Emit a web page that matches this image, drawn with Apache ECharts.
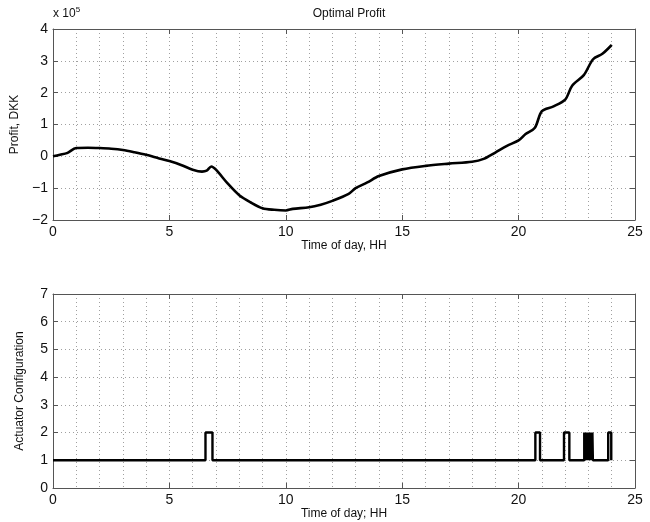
<!DOCTYPE html>
<html>
<head>
<meta charset="utf-8">
<script src="https://cdn.jsdelivr.net/npm/echarts@6/dist/echarts.min.js"></script>
<style>
  html, body { margin: 0; padding: 0; background: #fff; }
  #chart { width: 650px; height: 522px; }
</style>
</head>
<body>
<div id="chart"></div>
<script>
// profit curve, hours vs profit in units of 1e5 DKK
const profitHours = [0, 0.3, 0.6, 1, 1.5, 2, 2.5, 3, 3.5, 4, 4.5, 5, 5.5, 6, 6.4, 6.6, 6.8, 7, 7.5, 8, 8.5, 9, 9.5, 10, 10.3, 11, 11.5, 12, 12.7, 13, 13.5, 14, 15, 16, 17, 18, 18.5, 19, 19.5, 20, 20.3, 20.7, 21, 21.5, 22, 22.3, 22.8, 23.2, 23.6, 24]
const profitValues = [0, 0.05, 0.1, 0.26, 0.27, 0.26, 0.24, 0.2, 0.13, 0.05, -0.05, -0.15, -0.27, -0.42, -0.48, -0.45, -0.32, -0.42, -0.85, -1.22, -1.45, -1.63, -1.68, -1.7, -1.65, -1.6, -1.52, -1.4, -1.18, -1.0, -0.82, -0.62, -0.41, -0.3, -0.23, -0.17, -0.08, 0.12, 0.33, 0.5, 0.7, 0.9, 1.42, 1.57, 1.78, 2.22, 2.55, 3.05, 3.22, 3.5]

// actuator configuration: base level and intervals where it switches to 2
const baseLevel = 1
const pulseLevel = 2
const pulses = [
  [6.55, 6.85], [20.72, 20.92], [21.95, 22.18],
  [22.82, 22.84], [22.86, 22.88], [22.9, 22.92], [22.94, 22.96], [22.98, 23.0],
  [23.02, 23.04], [23.06, 23.08], [23.1, 23.12], [23.14, 23.16], [23.17, 23.19],
  [23.85, 23.98]
]
const xTicks = [0, 5, 10, 15, 20, 25]

const profitData = profitHours.map((h, i) => [h, profitValues[i]])
const actuatorData = [[0, baseLevel]]
pulses.forEach(p => {
  actuatorData.push([p[0], baseLevel], [p[0], pulseLevel], [p[1], pulseLevel], [p[1], baseLevel])
})
actuatorData.push([24, baseLevel])

const font = 'Liberation Sans, Arial, sans-serif'
const dotted = { show: true, lineStyle: { color: '#a0a0a0', type: [1, 3], width: 1 } }
const minus = v => String(v).replace('-', '\u2212')

function xAxisDef (gridIndex, name) {
  return {
    type: 'value', gridIndex: gridIndex, min: xTicks[0], max: xTicks[xTicks.length - 1], interval: 5,
    name: name, nameLocation: 'middle', nameGap: 20,
    nameTextStyle: { fontFamily: font, fontSize: 12, color: '#111' },
    axisLine: { onZero: false, lineStyle: { color: '#555' } },
    axisTick: { inside: true, length: 5, lineStyle: { color: '#555' } },
    axisLabel: { fontFamily: font, fontSize: 14, color: '#111', margin: 5 },
    splitLine: dotted,
    minorTick: { show: false, splitNumber: 5 },
    minorSplitLine: dotted
  }
}
function topAxisDef (gridIndex) {
  return {
    type: 'value', gridIndex: gridIndex, position: 'top', min: 0, max: 25, interval: 5,
    axisLine: { show: true, onZero: false, lineStyle: { color: '#555' } },
    axisTick: { inside: true, length: 5, lineStyle: { color: '#555' } },
    axisLabel: { show: false }, splitLine: { show: false }
  }
}
function yAxisDef (gridIndex, min, max, name) {
  return {
    type: 'value', gridIndex: gridIndex, min: min, max: max, interval: 1,
    name: name, nameLocation: 'middle', nameGap: 27,
    nameTextStyle: { fontFamily: font, fontSize: 12, color: '#111' },
    axisLine: { show: true, onZero: false, lineStyle: { color: '#555' } },
    axisTick: { inside: true, length: 5, lineStyle: { color: '#555' } },
    axisLabel: { fontFamily: font, fontSize: 14, color: '#111', margin: 5, formatter: minus },
    splitLine: dotted
  }
}
function rightAxisDef (gridIndex, min, max) {
  return {
    type: 'value', gridIndex: gridIndex, position: 'right', min: min, max: max, interval: 1,
    axisLine: { show: true, onZero: false, lineStyle: { color: '#555' } },
    axisTick: { inside: true, length: 5, lineStyle: { color: '#555' } },
    axisLabel: { show: false }, splitLine: { show: false }
  }
}

const chart = echarts.init(document.getElementById('chart'))
chart.setOption({
  animation: false,
  backgroundColor: '#fff',
  title: {
    text: 'Optimal Profit', left: 344, top: 3, textAlign: 'center',
    textStyle: { fontFamily: font, fontSize: 12, fontWeight: 'normal', color: '#111' }
  },
  graphic: [{
    type: 'text', left: 53, top: 6,
    style: {
      text: 'x 10{s|5}', fontFamily: font, fontSize: 12, fill: '#111',
      rich: { s: { fontSize: 8, verticalAlign: 'top', padding: [0, 0, 8, 0] } }
    }
  }],
  grid: [
    { left: 53, top: 29, width: 582, height: 191 },
    { left: 53, top: 294, width: 582, height: 194 }
  ],
  xAxis: [
    xAxisDef(0, 'Time of day, HH'),
    xAxisDef(1, 'Time of day; HH'),
    topAxisDef(0),
    topAxisDef(1)
  ],
  yAxis: [
    yAxisDef(0, -2, 4, 'Profit, DKK'),
    yAxisDef(1, 0, 7, 'Actuator Configuration'),
    rightAxisDef(0, -2, 4),
    rightAxisDef(1, 0, 7)
  ],
  series: [
    {
      type: 'line', xAxisIndex: 0, yAxisIndex: 0, data: profitData,
      smooth: 0.3, showSymbol: false,
      lineStyle: { color: '#000', width: 2.6 }
    },
    {
      type: 'line', xAxisIndex: 1, yAxisIndex: 1, data: actuatorData,
      showSymbol: false,
      lineStyle: { color: '#000', width: 2.4 }
    }
  ]
})
</script>
</body>
</html>
